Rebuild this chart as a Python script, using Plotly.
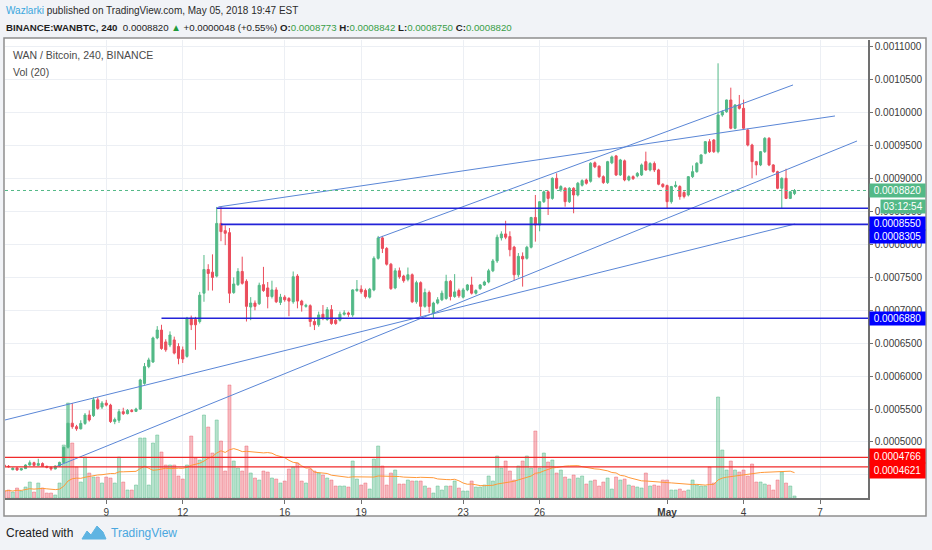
import pandas as pd
import plotly.graph_objects as go

# BINANCE:WANBTC, 240 min candles starting 2018-04-05 00:00
# prices below are in units of 1e-7 BTC (8820 -> 0.0008820)
start = "2018-04-05 00:00"
open_ = [4650, 4630, 4580, 4605, 4575, 4595, 4650, 4685, 4645, 4672, 4630, 4615, 4590, 4635, 4690, 4920, 5285, 5232, 5200, 5282,
         5410, 5400, 5640, 5530, 5590, 5560, 5310, 5330, 5460, 5430, 5480, 5465, 5500, 5890, 6145, 6215, 6580, 6700, 6520, 6473,
         6550, 6450, 6400, 6300, 6880, 6860, 6830, 7260, 7620, 7580, 7520, 8320, 8210, 8180, 7270, 7390, 7590, 7440, 7050, 7110,
         7100, 7390, 7340, 7210, 7310, 7120, 7200, 7180, 7130, 7520, 7140, 7060, 7070, 6830, 6780, 6940, 6860, 7010, 6850, 6850,
         6940, 6960, 6930, 7300, 7320, 7300, 7200, 7310, 7790, 8100, 7940, 7700, 7340, 7600, 7520, 7470, 7540, 7130, 7420, 7060,
         7270, 6960, 7110, 7160, 7180, 7440, 7210, 7300, 7200, 7310, 7385, 7260, 7330, 7385, 7430, 7600, 7750, 8100, 8160, 8120,
         7960, 7540, 7820, 7790, 7958, 8410, 8296, 8650, 8800, 8700, 9005, 8830, 8854, 8650, 8854, 8752, 8900, 8980, 8960, 9240,
         9190, 9030, 8940, 9240, 9345, 9056, 9270, 8980, 9030, 9040, 9056, 9258, 9132, 9230, 9132, 8915, 8895, 8650, 8880, 8880,
         8790, 8752, 9030, 9106, 9234, 9385, 9562, 9587, 9410, 9967, 10017, 10195, 9765, 10119, 10068, 9739, 9511, 9258, 9208, 9410,
         9613, 9208, 9106, 8854, 9005, 8700, 8773]
high = [4670, 4650, 4615, 4615, 4600, 4660, 4720, 4700, 4745, 4690, 4640, 4625, 4640, 4700, 4930, 5590, 5590, 5260, 5330, 5440,
        5480, 5680, 5680, 5620, 5640, 5580, 5370, 5500, 5520, 5500, 5500, 5520, 5960, 6200, 6280, 6600, 6760, 6780, 6560, 6680,
        6600, 6500, 6450, 6900, 6920, 6900, 7280, 7840, 7700, 7850, 8570, 8570, 8290, 8250, 7500, 7640, 7815, 7470, 7200, 7150,
        7420, 7660, 7430, 7450, 7350, 7250, 7230, 7200, 7590, 7550, 7160, 7100, 7090, 6880, 6980, 7080, 7050, 7080, 6870, 6980,
        7000, 6980, 7320, 7460, 7380, 7330, 7340, 7820, 8130, 8130, 7960, 7720, 7640, 7650, 7540, 7650, 7560, 7450, 7440, 7330,
        7300, 7130, 7200, 7300, 7540, 7460, 7550, 7330, 7340, 7400, 7510, 7320, 7400, 7450, 7630, 7780, 8150, 8200, 8360, 8200,
        7980, 7870, 7880, 7980, 8420, 8752, 8660, 8820, 8820, 9020, 9081, 8900, 8870, 8870, 8870, 8950, 8990, 9000, 9250, 9260,
        9200, 9050, 9270, 9350, 9360, 9300, 9290, 9050, 9050, 9100, 9230, 9410, 9250, 9260, 9150, 8930, 8910, 8890, 8960, 8900,
        8810, 9040, 9200, 9250, 9370, 9570, 9600, 9600, 10752, 10040, 10200, 10382, 10130, 10271, 10200, 9760, 9530, 9270, 9420, 9630,
        9630, 9220, 9120, 9020, 9150, 8810, 8842]
low = [4610, 4610, 4570, 4560, 4565, 4590, 4640, 4630, 4640, 4620, 4600, 4565, 4585, 4625, 4680, 4900, 5200, 5170, 5190, 5260,
       5310, 5380, 5490, 5500, 5540, 5290, 5270, 5290, 5410, 5420, 5450, 5455, 5490, 5870, 6120, 6200, 6560, 6400, 6370, 6440,
       6330, 6180, 6200, 6280, 6700, 6400, 6800, 7130, 7300, 7300, 7500, 8050, 7990, 7110, 7250, 7370, 7390, 6830, 6850, 7000,
       7080, 7280, 7030, 7180, 7110, 7080, 7130, 6910, 7100, 7030, 6980, 7040, 6750, 6700, 6750, 6850, 6840, 6780, 6780, 6830,
       6920, 6900, 6900, 7280, 7250, 7180, 7180, 7290, 7770, 7870, 7680, 7310, 7320, 7480, 7420, 7440, 7110, 7100, 6910, 7040,
       6960, 6880, 7090, 7140, 7160, 7150, 7190, 7190, 7180, 7290, 7240, 7240, 7310, 7370, 7410, 7580, 7720, 8060, 8080, 7820,
       7450, 7500, 7360, 7770, 7940, 8043, 8200, 8630, 8448, 8680, 8840, 8800, 8574, 8630, 8474, 8730, 8880, 8910, 8940, 9160,
       9010, 8920, 8920, 9220, 9040, 9040, 8960, 8960, 8980, 9020, 9040, 9120, 9110, 9100, 8900, 8860, 8550, 8620, 8860, 8680,
       8700, 8730, 9010, 9090, 9220, 9370, 9390, 9390, 9385, 9940, 10000, 9750, 9750, 10050, 9750, 9490, 9005, 9050, 9190, 9390,
       9190, 9090, 8840, 8550, 8690, 8690, 8750]
close = [4630, 4625, 4600, 4575, 4595, 4650, 4685, 4645, 4672, 4630, 4615, 4590, 4635, 4690, 4920, 5285, 5232, 5200, 5282, 5410,
         5334, 5640, 5510, 5590, 5560, 5310, 5340, 5460, 5430, 5480, 5465, 5500, 5942, 6145, 6246, 6580, 6700, 6420, 6400, 6625,
         6350, 6270, 6260, 6880, 6780, 6780, 7230, 7620, 7560, 7500, 8320, 8195, 8170, 7260, 7400, 7590, 7410, 7060, 7110, 7060,
         7380, 7300, 7210, 7310, 7130, 7200, 7160, 7140, 7510, 7140, 7080, 7075, 6830, 6780, 6930, 6880, 7010, 6800, 6800, 6940,
         6960, 6940, 7310, 7320, 7280, 7210, 7320, 7790, 8100, 7940, 7700, 7330, 7600, 7510, 7450, 7540, 7130, 7420, 7060, 7270,
         7060, 7110, 7160, 7260, 7440, 7210, 7280, 7220, 7310, 7385, 7260, 7300, 7385, 7430, 7600, 7750, 8110, 8160, 8110, 7920,
         7540, 7820, 7780, 7958, 8410, 8296, 8650, 8800, 8700, 9005, 8854, 8880, 8650, 8854, 8752, 8930, 8970, 8930, 9234, 9180,
         9030, 8940, 9258, 9330, 9056, 9284, 8980, 9030, 9000, 9080, 9208, 9132, 9230, 9132, 8915, 8880, 8650, 8880, 8900, 8727,
         8730, 9030, 9106, 9234, 9360, 9562, 9410, 9410, 9967, 10017, 10195, 9765, 10119, 10068, 9765, 9511, 9258, 9208, 9410, 9613,
         9208, 9106, 8854, 9005, 8700, 8800, 8820]
volume = [7, 8, 6, 10, 7, 11, 16, 6, 15, 10, 5, 5, 3, 15, 53, 95, 55, 31, 16, 41,
          25, 21, 21, 15, 21, 20, 15, 41, 16, 8, 8, 13, 60, 60, 13, 55, 63, 46, 33, 33,
          33, 22, 19, 33, 62, 40, 38, 83, 71, 45, 78, 57, 27, 113, 37, 30, 27, 52, 25, 20,
          18, 27, 26, 20, 19, 15, 17, 29, 31, 35, 17, 15, 29, 27, 25, 23, 20, 18, 12, 12,
          12, 11, 37, 19, 13, 15, 9, 39, 52, 32, 13, 25, 28, 14, 14, 18, 17, 17, 17, 12,
          10, 5, 12, 8, 12, 12, 17, 10, 7, 7, 17, 11, 11, 13, 22, 17, 42, 30, 37, 27,
          18, 32, 37, 42, 30, 67, 30, 45, 36, 38, 25, 28, 21, 19, 23, 20, 22, 14, 17, 18,
          12, 16, 20, 9, 21, 18, 19, 13, 12, 11, 10, 25, 12, 13, 12, 18, 18, 8, 8, 9,
          7, 8, 18, 13, 12, 12, 31, 15, 101, 48, 28, 37, 28, 26, 28, 22, 34, 16, 16, 14,
          13, 8, 18, 26, 15, 12, 2]

# drawn levels and trend lines (1e-7 BTC)
blue_levels = [(8550, "2018-04-13 08:00"), (8305, "2018-04-13 12:00"), (6880, "2018-04-11 04:00")]
red_levels = [4766, 4621]
last_price = 8820
trend_lines = [
    ("2018-04-05 00:40", 5334, "2018-05-06 00:30", 8311),
    ("2018-04-07 00:00", 4620, "2018-05-08 10:50", 9572),
    ("2018-04-19 16:00", 8099, "2018-05-05 22:35", 10423),
    ("2018-04-13 09:30", 8570, "2018-05-07 14:05", 9952),
]
date_ticks = ["2018-04-09", "2018-04-12", "2018-04-16", "2018-04-19", "2018-04-23",
              "2018-04-26", "2018-05-01", "2018-05-04", "2018-05-07"]
date_labels = ["9", "12", "16", "19", "23", "26", "<b>May</b>", "4", "7"]

UNIT = 1e-7
GREEN = "#53b987"
RED = "#eb4d5c"
X_RANGE = ["2018-04-05 00:40", "2018-05-08 21:10"]
PAGE_BG = "#f1f3f7"

times = pd.date_range(start, periods=len(close), freq="4h")
o = [v * UNIT for v in open_]
h = [v * UNIT for v in high]
l = [v * UNIT for v in low]
c = [v * UNIT for v in close]
vol_ma = pd.Series(volume, dtype=float).rolling(20, min_periods=1).mean()
vol_colors = ["rgba(83,185,135,0.42)" if cc >= oo else "rgba(235,77,92,0.38)" for oo, cc in zip(open_, close)]
vol_lines = ["rgba(83,185,135,0.75)" if cc >= oo else "rgba(235,77,92,0.65)" for oo, cc in zip(open_, close)]

# plot area in pixels
L, R, T, B = 5, 868, 40, 498
W, H = 932, 550


def pxx(px):
    return (px - L) / (R - L)


def pxy(py):
    return (B - py) / (B - T)


fig = go.Figure()
fig.add_trace(go.Bar(
    x=times, y=volume, yaxis="y",
    marker=dict(color=vol_colors, line=dict(color=vol_lines, width=0.6)),
    hoverinfo="skip",
))
fig.add_trace(go.Scatter(
    x=times, y=vol_ma, yaxis="y", mode="lines",
    line=dict(color="#ff9838", width=1), hoverinfo="skip",
))
fig.add_trace(go.Candlestick(
    x=times, open=o, high=h, low=l, close=c, yaxis="y2",
    increasing=dict(line=dict(color=GREEN, width=1), fillcolor=GREEN),
    decreasing=dict(line=dict(color=RED, width=1), fillcolor=RED),
    whiskerwidth=0,
))

shapes = []
# chart frame (white panel with grey border)
shapes.append(dict(type="rect", xref="paper", yref="paper",
                   x0=pxx(4), x1=pxx(926), y0=pxy(516), y1=pxy(38),
                   line=dict(color="#8e8e8e", width=1.5), fillcolor="white", layer="below"))
for x0, y0, x1, y1 in trend_lines:
    shapes.append(dict(type="line", xref="x", yref="y2", x0=x0, x1=x1, y0=y0 * UNIT, y1=y1 * UNIT,
                       line=dict(color="#5a86d6", width=1)))
for lvl, t0 in blue_levels:
    shapes.append(dict(type="line", xref="x", yref="y2", x0=t0, x1=X_RANGE[1], y0=lvl * UNIT, y1=lvl * UNIT,
                       line=dict(color="#2323d8", width=1.6)))
for lvl in red_levels:
    shapes.append(dict(type="line", xref="x", yref="y2", x0=X_RANGE[0], x1=X_RANGE[1], y0=lvl * UNIT, y1=lvl * UNIT,
                       line=dict(color="#f02a2a", width=1.2)))
shapes.append(dict(type="line", xref="x", yref="y2", x0=X_RANGE[0], x1=X_RANGE[1],
                   y0=last_price * UNIT, y1=last_price * UNIT,
                   line=dict(color=GREEN, width=1, dash="dot")))

# footer logo (small cloud mark)
logo = [(82, 539), (87, 531), (91, 535), (97, 526), (103, 532), (106, 539)]
path = "M " + " L ".join(f"{pxx(a):.5f},{pxy(b):.5f}" for a, b in logo) + " Z"
shapes.append(dict(type="path", xref="paper", yref="paper", path=path,
                   fillcolor="#5fb4e2", line=dict(color="#5fb4e2", width=1)))

annotations = []


def price_tag(value, color, text=None, yshift=0, xshift=1, width=55, height=13):
    annotations.append(dict(
        xref="paper", yref="y2", x=1, y=value * UNIT, xanchor="left", yanchor="middle",
        text=text or f"{value * UNIT:.7f}", showarrow=False, xshift=xshift, yshift=yshift,
        bgcolor=color, font=dict(color="white", size=10), width=width, height=height,
        borderpad=0, align="center",
    ))


price_tag(last_price, GREEN)
price_tag(last_price, GREEN, text="03:12:54", yshift=-16.5, xshift=12, width=44)
price_tag(8550, "#0000ff", yshift=-15)
price_tag(8305, "#0000ff", yshift=-12)
price_tag(6880, "#0000ff")
price_tag(4766, "#ff0000", yshift=1.5, height=14)
price_tag(4621, "#ff0000", yshift=-3.5, height=15)


def text_at(px, py, text, size=10, color="#333333"):
    annotations.append(dict(xref="paper", yref="paper", x=pxx(px), y=pxy(py), text=text,
                            showarrow=False, xanchor="left", yanchor="middle",
                            font=dict(size=size, color=color)))


g = "#3a9e48"
text_at(4, 11, "<span style='color:#3aa6dd'>Wazlarki</span> published on TradingView.com, May 05, 2018 19:47 EST",
        size=10, color="#2b2b2b")
text_at(4, 28, "<b>BINANCE:WANBTC, 240</b>  0.0008820 <span style='color:#1f9a3a'>▲</span> +0.0000048 (+0.55%) "
        f"<b>O:</b><span style='color:{g}'>0.0008773</span> <b>H:</b><span style='color:{g}'>0.0008842</span> "
        f"<b>L:</b><span style='color:{g}'>0.0008750</span> <b>C:</b><span style='color:{g}'>0.0008820</span>",
        size=9.7, color="#1e1e1e")
text_at(11, 55, "WAN / Bitcoin, 240, BINANCE", size=10.5, color="#4a4a4a")
text_at(11, 72, "Vol (20)", size=10.5, color="#4a4a4a")
text_at(4, 533, "Created with", size=12, color="#222222")
text_at(109, 533, "TradingView", size=12, color="#4aa7df")

fig.update_layout(
    width=W, height=H, autosize=False,
    margin=dict(l=L, r=W - R, t=T, b=H - B),
    paper_bgcolor=PAGE_BG, plot_bgcolor="white",
    font=dict(family="Liberation Sans, Arial, sans-serif", size=10, color="#4a4a4a"),
    showlegend=False, bargap=0.28,
    shapes=shapes, annotations=annotations,
    xaxis=dict(
        type="date", range=X_RANGE, rangeslider=dict(visible=False),
        tickvals=date_ticks, ticktext=date_labels,
        showgrid=True, gridcolor="#eceff4", gridwidth=1,
        showline=True, linecolor="#707070", linewidth=1.5,
        ticks="outside", ticklen=4, tickcolor="#707070",
        tickfont=dict(size=10, color="#3a3a3a"),
    ),
    yaxis=dict(range=[0, B - T], visible=False, fixedrange=True),
    yaxis2=dict(
        overlaying="y", side="right", anchor="x",
        range=[0.0004149, 0.0011106], dtick=0.00005, tick0=0, tickformat=".7f",
        showgrid=True, gridcolor="#eceff4", gridwidth=1,
        showline=True, linecolor="#707070", linewidth=1.5,
        ticks="outside", ticklen=3, tickcolor="#707070",
        tickfont=dict(size=10, color="#3a3a3a"), zeroline=False,
    ),
)

# drop the browser's default 8px body margin so the figure sits at the page origin
fig.write_html("out.html", config={"displayModeBar": False},
               post_script=f"document.body.style.margin='0';document.body.style.background='{PAGE_BG}';")
